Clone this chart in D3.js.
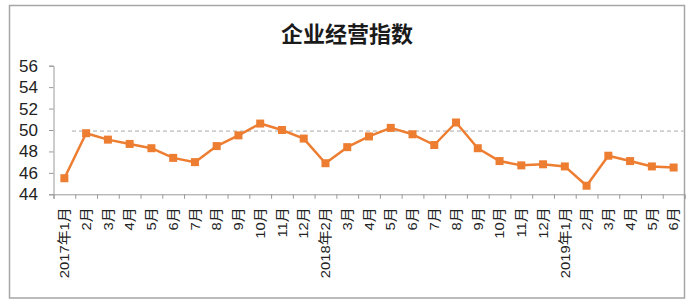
<!DOCTYPE html>
<html>
<head>
<meta charset="utf-8">
<script src="https://cdn.jsdelivr.net/npm/d3@7"></script>
<style>
  body { margin: 0; background: #fff; }
  svg { display: block; }
</style>
</head>
<body>
<div id="chart"></div>
<script>
// month labels (Jan 2018 is merged into Feb)
const categories = [
  "2017年1月", "2月", "3月", "4月", "5月", "6月", "7月", "8月", "9月", "10月", "11月", "12月",
  "2018年2月", "3月", "4月", "5月", "6月", "7月", "8月", "9月", "10月", "11月", "12月",
  "2019年1月", "2月", "3月", "4月", "5月", "6月"
];
const indexValues = [
  45.5, 49.7, 49.1, 48.7, 48.3, 47.4, 47.0, 48.5, 49.5, 50.6, 50.0, 49.2,
  46.9, 48.4, 49.4, 50.2, 49.6, 48.6, 50.7, 48.3, 47.1, 46.7, 46.8,
  46.6, 44.8, 47.6, 47.1, 46.6, 46.5
];
const yTicks = [44, 46, 48, 50, 52, 54, 56];
const refLevel = 49.9;
const title = "企业经营指数";

const W = 694, H = 306;
const margin = {top: 66, right: 9, bottom: 112, left: 53.5};

const svg = d3.select("#chart").append("svg")
  .attr("width", W)
  .attr("height", H);

// outer frame
svg.append("rect")
  .attr("x", 9.5).attr("y", 5.5)
  .attr("width", 675).attr("height", 292.5)
  .attr("fill", "#fff")
  .attr("stroke", "#a6a6a6")
  .attr("stroke-width", 1.5);

// title
svg.append("text")
  .attr("x", 347).attr("y", 42)
  .attr("text-anchor", "middle")
  .attr("font-family", "'Noto Sans CJK SC', sans-serif")
  .attr("font-weight", 700)
  .attr("font-size", "22px")
  .attr("fill", "#1a1a1a")
  .text(title);

// scales
const x = d3.scaleBand()
  .domain(d3.range(categories.length))
  .range([margin.left, W - margin.right - 0.5]);

const xEdge = d3.scaleLinear()
  .domain([0, categories.length])
  .range(x.range());

const y = d3.scaleLinear()
  .domain([44, 56])
  .range([H - margin.bottom + 0.3, margin.top - 0.3]);

// y axis
const yAxis = svg.append("g")
  .attr("transform", `translate(${margin.left},0)`)
  .call(d3.axisLeft(y).tickValues(yTicks).tickSize(4.5).tickPadding(11));
yAxis.select(".domain").attr("stroke", "#9a9a9a");
yAxis.selectAll(".tick line").attr("stroke", "#9a9a9a");
yAxis.selectAll(".tick text")
  .attr("font-family", "'Liberation Sans', Arial, sans-serif")
  .attr("font-size", "17px")
  .attr("fill", "#222");

// x axis: tick marks between categories
const xTickGroup = svg.append("g")
  .attr("transform", `translate(0,${y(44)})`)
  .call(d3.axisBottom(xEdge).tickValues(d3.range(categories.length + 1)).tickSize(4.5).tickFormat(""));
xTickGroup.select(".domain").attr("stroke", "#9a9a9a");
xTickGroup.selectAll(".tick line").attr("stroke", "#9a9a9a");

// x labels, rotated (slightly stretched along the text like the source)
svg.append("g")
  .selectAll("text")
  .data(categories)
  .join("text")
  .attr("transform", (d, i) => `translate(${x(i) + x.bandwidth() / 2},${y(44) + 13}) rotate(-90) scale(1.1,1)`)
  .attr("dy", "0.35em")
  .attr("text-anchor", "end")
  .attr("font-family", "'Liberation Sans', 'Noto Sans CJK SC', sans-serif")
  .attr("font-size", "13.5px")
  .attr("fill", "#222")
  .text(d => d);

// dashed reference line
svg.append("line")
  .attr("x1", xEdge(0.85)).attr("x2", xEdge(categories.length) - 1)
  .attr("y1", y(refLevel)).attr("y2", y(refLevel))
  .attr("stroke", "#a8a8a8")
  .attr("stroke-width", 1)
  .attr("stroke-dasharray", "4,3");

// series line
const line = d3.line()
  .x((d, i) => x(i) + x.bandwidth() / 2)
  .y(d => y(d));

svg.append("path")
  .datum(indexValues)
  .attr("fill", "none")
  .attr("stroke", "#ed7d31")
  .attr("stroke-width", 2.5)
  .attr("stroke-linejoin", "round")
  .attr("d", line);

// square markers
const ms = 8;
svg.append("g")
  .selectAll("rect")
  .data(indexValues)
  .join("rect")
  .attr("x", (d, i) => x(i) + x.bandwidth() / 2 - ms / 2)
  .attr("y", d => y(d) - ms / 2)
  .attr("width", ms)
  .attr("height", ms)
  .attr("fill", "#ed7d31");
</script>
</body>
</html>
